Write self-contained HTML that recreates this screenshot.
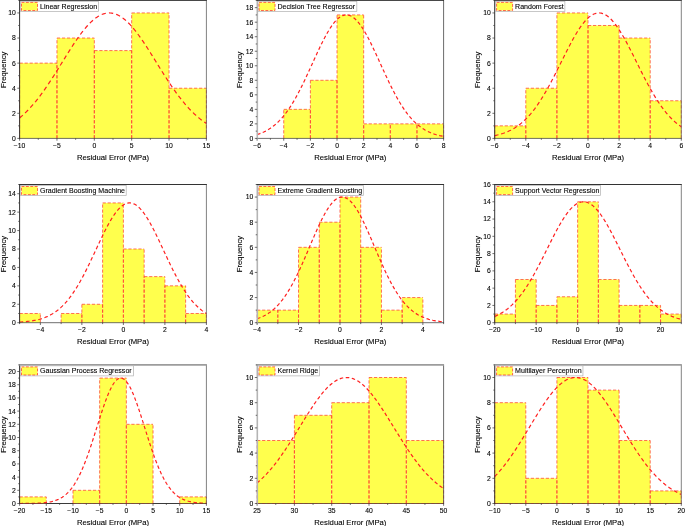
<!DOCTYPE html><html><head><meta charset="utf-8"><title>Residual error histograms</title><style>html,body{margin:0;padding:0;background:#fff;overflow:hidden}svg{display:block;will-change:transform}text{font-family:"Liberation Sans",sans-serif;fill:#000;stroke:#000;stroke-width:0.1px}</style></head><body>
<svg width="685" height="526" viewBox="0 0 685 526">
<rect width="685" height="526" fill="#fff"/>
<g>
<rect x="19.6" y="63.13" width="37.36" height="75.27" fill="#ffff4d"/>
<rect x="56.96" y="38.04" width="37.36" height="100.36" fill="#ffff4d"/>
<rect x="94.32" y="50.58" width="37.36" height="87.82" fill="#ffff4d"/>
<rect x="131.68" y="12.95" width="37.36" height="125.45" fill="#ffff4d"/>
<rect x="169.04" y="88.22" width="37.36" height="50.18" fill="#ffff4d"/>
<path d="M19.6 138.4V63.13M56.96 138.4V63.13M19.6 63.13H56.96M56.96 138.4V38.04M94.32 138.4V38.04M56.96 38.04H94.32M94.32 138.4V50.58M131.68 138.4V50.58M94.32 50.58H131.68M131.68 138.4V12.95M169.04 138.4V12.95M131.68 12.95H169.04M169.04 138.4V88.22M206.4 138.4V88.22M169.04 88.22H206.4" fill="none" stroke="#ff4030" stroke-width="0.75" stroke-dasharray="3.2 1.8"/>
<polyline points="19.6,117.95 20.93,116.83 22.27,115.66 23.6,114.44 24.94,113.19 26.27,111.88 27.61,110.54 28.94,109.14 30.27,107.71 31.61,106.22 32.94,104.7 34.28,103.13 35.61,101.51 36.95,99.85 38.28,98.15 39.61,96.41 40.95,94.63 42.28,92.81 43.62,90.96 44.95,89.06 46.29,87.14 47.62,85.18 48.95,83.19 50.29,81.17 51.62,79.12 52.96,77.05 54.29,74.96 55.63,72.85 56.96,70.73 58.29,68.59 59.63,66.45 60.96,64.29 62.3,62.14 63.63,59.98 64.97,57.83 66.3,55.68 67.63,53.55 68.97,51.43 70.3,49.33 71.64,47.25 72.97,45.2 74.31,43.18 75.64,41.19 76.97,39.24 78.31,37.34 79.64,35.48 80.98,33.67 82.31,31.91 83.65,30.21 84.98,28.58 86.31,27 87.65,25.5 88.98,24.07 90.32,22.71 91.65,21.43 92.99,20.23 94.32,19.11 95.65,18.08 96.99,17.14 98.32,16.29 99.66,15.53 100.99,14.87 102.33,14.3 103.66,13.83 104.99,13.46 106.33,13.19 107.66,13.02 109,12.95 110.33,12.98 111.67,13.11 113,13.34 114.33,13.67 115.67,14.1 117,14.63 118.34,15.25 119.67,15.97 121.01,16.79 122.34,17.69 123.67,18.69 125.01,19.77 126.34,20.94 127.68,22.19 129.01,23.51 130.35,24.92 131.68,26.39 133.01,27.94 134.35,29.55 135.68,31.23 137.02,32.96 138.35,34.75 139.69,36.59 141.02,38.48 142.35,40.41 143.69,42.38 145.02,44.39 146.36,46.43 147.69,48.5 149.03,50.59 150.36,52.7 151.69,54.83 153.03,56.97 154.36,59.12 155.7,61.27 157.03,63.43 158.37,65.58 159.7,67.73 161.03,69.88 162.37,72.01 163.7,74.12 165.04,76.22 166.37,78.3 167.71,80.35 169.04,82.38 170.37,84.38 171.71,86.36 173.04,88.3 174.38,90.2 175.71,92.07 177.05,93.91 178.38,95.71 179.71,97.46 181.05,99.18 182.38,100.85 183.72,102.48 185.05,104.07 186.39,105.62 187.72,107.12 189.05,108.57 190.39,109.98 191.72,111.35 193.06,112.67 194.39,113.95 195.73,115.18 197.06,116.36 198.39,117.51 199.73,118.61 201.06,119.66 202.4,120.68 203.73,121.65 205.07,122.58 206.4,123.48" fill="none" stroke="#ff2020" stroke-width="1.2" stroke-dasharray="4.29 3.11"/>
<path d="M19.2 138.4H206.8" stroke="#4a4a4a" stroke-width="0.8"/>
<path d="M206.4 0V138.8" stroke="#555" stroke-width="0.75"/>
<path d="M19.6 -0.1V138.9" stroke="#333" stroke-width="1.0"/>
<path d="M19.1 0.4H206.8" stroke="#333" stroke-width="1.0"/>
<text x="19.6" y="147.7" font-size="6.8" text-anchor="middle">−10</text>
<text x="56.96" y="147.7" font-size="6.8" text-anchor="middle">−5</text>
<text x="94.32" y="147.7" font-size="6.8" text-anchor="middle">0</text>
<text x="131.68" y="147.7" font-size="6.8" text-anchor="middle">5</text>
<text x="169.04" y="147.7" font-size="6.8" text-anchor="middle">10</text>
<text x="206.4" y="147.7" font-size="6.8" text-anchor="middle">15</text>
<text x="15.8" y="140.83" font-size="6.8" text-anchor="end">0</text>
<text x="15.8" y="115.74" font-size="6.8" text-anchor="end">2</text>
<text x="15.8" y="90.65" font-size="6.8" text-anchor="end">4</text>
<text x="15.8" y="65.56" font-size="6.8" text-anchor="end">6</text>
<text x="15.8" y="40.47" font-size="6.8" text-anchor="end">8</text>
<text x="15.8" y="15.38" font-size="6.8" text-anchor="end">10</text>
<path d="M19.6 138.4v2.3M56.96 138.4v2.3M94.32 138.4v2.3M131.68 138.4v2.3M169.04 138.4v2.3M206.4 138.4v2.3M38.28 138.4v1.4M75.64 138.4v1.4M113 138.4v1.4M150.36 138.4v1.4M187.72 138.4v1.4M19.6 138.4h-2.3M19.6 113.31h-2.3M19.6 88.22h-2.3M19.6 63.13h-2.3M19.6 38.04h-2.3M19.6 12.95h-2.3M19.6 125.85h-1.4M19.6 100.76h-1.4M19.6 75.67h-1.4M19.6 50.58h-1.4M19.6 25.49h-1.4M19.6 0.4h-1.4" stroke="#333" stroke-width="0.7" fill="none"/>
<text x="113" y="159.9" font-size="7.7" text-anchor="middle">Residual Error (MPa)</text>
<text transform="translate(6.1 69.8) rotate(-90)" font-size="7.7" text-anchor="middle">Frequency</text>
<rect x="20.5" y="1.3" width="77.87" height="10.1" fill="#fff" stroke="#b0b0b0" stroke-width="0.7"/>
<rect x="21.5" y="2.4" width="16" height="8.1" fill="#ffff4d" stroke="#ff4030" stroke-width="0.8" stroke-dasharray="2.9 1.5"/>
<text x="40" y="8.8" font-size="7.05">Linear Regression</text>
</g>
<g>
<rect x="283.74" y="109.35" width="26.64" height="29.05" fill="#ffff4d"/>
<rect x="310.39" y="80.29" width="26.64" height="58.11" fill="#ffff4d"/>
<rect x="337.03" y="14.93" width="26.64" height="123.47" fill="#ffff4d"/>
<rect x="363.67" y="123.87" width="26.64" height="14.53" fill="#ffff4d"/>
<rect x="390.31" y="123.87" width="26.64" height="14.53" fill="#ffff4d"/>
<rect x="416.96" y="123.87" width="26.64" height="14.53" fill="#ffff4d"/>
<path d="M283.74 138.4V109.35M310.39 138.4V109.35M283.74 109.35H310.39M310.39 138.4V80.29M337.03 138.4V80.29M310.39 80.29H337.03M337.03 138.4V14.93M363.67 138.4V14.93M337.03 14.93H363.67M363.67 138.4V123.87M390.31 138.4V123.87M363.67 123.87H390.31M390.31 138.4V123.87M416.96 138.4V123.87M390.31 123.87H416.96M416.96 138.4V123.87M443.6 138.4V123.87M416.96 123.87H443.6" fill="none" stroke="#ff4030" stroke-width="0.75" stroke-dasharray="3.2 1.8"/>
<polyline points="257.1,134.49 258.43,134.07 259.76,133.61 261.1,133.11 262.43,132.56 263.76,131.97 265.09,131.34 266.43,130.65 267.76,129.91 269.09,129.11 270.42,128.25 271.75,127.33 273.09,126.34 274.42,125.28 275.75,124.16 277.08,122.96 278.41,121.69 279.75,120.34 281.08,118.91 282.41,117.4 283.74,115.81 285.08,114.14 286.41,112.38 287.74,110.54 289.07,108.61 290.4,106.59 291.74,104.5 293.07,102.32 294.4,100.06 295.73,97.72 297.06,95.31 298.4,92.82 299.73,90.26 301.06,87.64 302.39,84.95 303.73,82.22 305.06,79.43 306.39,76.59 307.72,73.73 309.05,70.83 310.39,67.91 311.72,64.98 313.05,62.04 314.38,59.11 315.71,56.19 317.05,53.3 318.38,50.44 319.71,47.62 321.04,44.86 322.38,42.16 323.71,39.53 325.04,36.99 326.37,34.54 327.7,32.2 329.04,29.97 330.37,27.87 331.7,25.9 333.03,24.06 334.36,22.38 335.7,20.86 337.03,19.49 338.36,18.3 339.69,17.28 341.03,16.44 342.36,15.78 343.69,15.31 345.02,15.02 346.35,14.93 347.69,15.02 349.02,15.31 350.35,15.78 351.68,16.44 353.01,17.28 354.35,18.3 355.68,19.49 357.01,20.86 358.34,22.38 359.68,24.06 361.01,25.9 362.34,27.87 363.67,29.97 365,32.2 366.34,34.54 367.67,36.99 369,39.53 370.33,42.16 371.66,44.86 373,47.62 374.33,50.44 375.66,53.3 376.99,56.19 378.33,59.11 379.66,62.04 380.99,64.98 382.32,67.91 383.65,70.83 384.99,73.73 386.32,76.59 387.65,79.43 388.98,82.22 390.31,84.95 391.65,87.64 392.98,90.26 394.31,92.82 395.64,95.31 396.98,97.72 398.31,100.06 399.64,102.32 400.97,104.5 402.3,106.59 403.64,108.61 404.97,110.54 406.3,112.38 407.63,114.14 408.96,115.81 410.3,117.4 411.63,118.91 412.96,120.34 414.29,121.69 415.62,122.96 416.96,124.16 418.29,125.28 419.62,126.34 420.95,127.33 422.29,128.25 423.62,129.11 424.95,129.91 426.28,130.65 427.61,131.34 428.95,131.97 430.28,132.56 431.61,133.11 432.94,133.61 434.28,134.07 435.61,134.49 436.94,134.87 438.27,135.23 439.6,135.55 440.94,135.84 442.27,136.11 443.6,136.35" fill="none" stroke="#ff2020" stroke-width="1.2" stroke-dasharray="3.48 2.52"/>
<path d="M256.7 138.4H444" stroke="#4a4a4a" stroke-width="0.8"/>
<path d="M443.6 0V138.8" stroke="#444" stroke-width="0.8"/>
<path d="M257.3 -0.1V138.9" stroke="#b4b4b4" stroke-width="1.6"/>
<path d="M256.6 0.4H444" stroke="#333" stroke-width="1.0"/>
<text x="257.1" y="147.7" font-size="6.8" text-anchor="middle">−6</text>
<text x="283.74" y="147.7" font-size="6.8" text-anchor="middle">−4</text>
<text x="310.39" y="147.7" font-size="6.8" text-anchor="middle">−2</text>
<text x="337.03" y="147.7" font-size="6.8" text-anchor="middle">0</text>
<text x="363.67" y="147.7" font-size="6.8" text-anchor="middle">2</text>
<text x="390.31" y="147.7" font-size="6.8" text-anchor="middle">4</text>
<text x="416.96" y="147.7" font-size="6.8" text-anchor="middle">6</text>
<text x="443.6" y="147.7" font-size="6.8" text-anchor="middle">8</text>
<text x="253.3" y="140.83" font-size="6.8" text-anchor="end">0</text>
<text x="253.3" y="126.3" font-size="6.8" text-anchor="end">2</text>
<text x="253.3" y="111.78" font-size="6.8" text-anchor="end">4</text>
<text x="253.3" y="97.25" font-size="6.8" text-anchor="end">6</text>
<text x="253.3" y="82.72" font-size="6.8" text-anchor="end">8</text>
<text x="253.3" y="68.2" font-size="6.8" text-anchor="end">10</text>
<text x="253.3" y="53.67" font-size="6.8" text-anchor="end">12</text>
<text x="253.3" y="39.15" font-size="6.8" text-anchor="end">14</text>
<text x="253.3" y="24.62" font-size="6.8" text-anchor="end">16</text>
<text x="253.3" y="10.09" font-size="6.8" text-anchor="end">18</text>
<path d="M257.1 138.4v2.3M283.74 138.4v2.3M310.39 138.4v2.3M337.03 138.4v2.3M363.67 138.4v2.3M390.31 138.4v2.3M416.96 138.4v2.3M443.6 138.4v2.3M270.42 138.4v1.4M297.06 138.4v1.4M323.71 138.4v1.4M350.35 138.4v1.4M376.99 138.4v1.4M403.64 138.4v1.4M430.28 138.4v1.4M257.1 138.4h-2.3M257.1 123.87h-2.3M257.1 109.35h-2.3M257.1 94.82h-2.3M257.1 80.29h-2.3M257.1 65.77h-2.3M257.1 51.24h-2.3M257.1 36.72h-2.3M257.1 22.19h-2.3M257.1 7.66h-2.3M257.1 131.14h-1.4M257.1 116.61h-1.4M257.1 102.08h-1.4M257.1 87.56h-1.4M257.1 73.03h-1.4M257.1 58.51h-1.4M257.1 43.98h-1.4M257.1 29.45h-1.4M257.1 14.93h-1.4M257.1 0.4h-1.4" stroke="#333" stroke-width="0.7" fill="none"/>
<text x="350.35" y="159.9" font-size="7.7" text-anchor="middle">Residual Error (MPa)</text>
<text transform="translate(242.3 69.8) rotate(-90)" font-size="7.7" text-anchor="middle">Frequency</text>
<rect x="258" y="1.3" width="98.83" height="10.1" fill="#fff" stroke="#b0b0b0" stroke-width="0.7"/>
<rect x="259" y="2.4" width="16" height="8.1" fill="#ffff4d" stroke="#ff4030" stroke-width="0.8" stroke-dasharray="2.9 1.5"/>
<text x="277.5" y="8.8" font-size="7.05">Decision Tree Regressor</text>
</g>
<g>
<rect x="494.7" y="125.85" width="31.1" height="12.55" fill="#ffff4d"/>
<rect x="525.8" y="88.22" width="31.1" height="50.18" fill="#ffff4d"/>
<rect x="556.9" y="12.95" width="31.1" height="125.45" fill="#ffff4d"/>
<rect x="588" y="25.49" width="31.1" height="112.91" fill="#ffff4d"/>
<rect x="619.1" y="38.04" width="31.1" height="100.36" fill="#ffff4d"/>
<rect x="650.2" y="100.76" width="31.1" height="37.64" fill="#ffff4d"/>
<path d="M494.7 138.4V125.85M525.8 138.4V125.85M494.7 125.85H525.8M525.8 138.4V88.22M556.9 138.4V88.22M525.8 88.22H556.9M556.9 138.4V12.95M588 138.4V12.95M556.9 12.95H588M588 138.4V25.49M619.1 138.4V25.49M588 25.49H619.1M619.1 138.4V38.04M650.2 138.4V38.04M619.1 38.04H650.2M650.2 138.4V100.76M681.3 138.4V100.76M650.2 100.76H681.3" fill="none" stroke="#ff4030" stroke-width="0.75" stroke-dasharray="3.2 1.8"/>
<polyline points="494.7,135.6 496.03,135.31 497.37,135 498.7,134.67 500.03,134.3 501.36,133.91 502.7,133.49 504.03,133.03 505.36,132.53 506.7,132 508.03,131.43 509.36,130.82 510.69,130.17 512.03,129.46 513.36,128.72 514.69,127.92 516.03,127.07 517.36,126.16 518.69,125.2 520.02,124.19 521.36,123.11 522.69,121.97 524.02,120.77 525.36,119.51 526.69,118.18 528.02,116.78 529.35,115.32 530.69,113.79 532.02,112.19 533.35,110.51 534.69,108.77 536.02,106.96 537.35,105.08 538.68,103.14 540.02,101.12 541.35,99.04 542.68,96.89 544.02,94.69 545.35,92.42 546.68,90.09 548.01,87.71 549.35,85.28 550.68,82.8 552.01,80.28 553.35,77.71 554.68,75.12 556.01,72.49 557.34,69.84 558.68,67.18 560.01,64.5 561.34,61.82 562.68,59.13 564.01,56.46 565.34,53.8 566.67,51.16 568.01,48.56 569.34,45.99 570.67,43.46 572.01,40.99 573.34,38.58 574.67,36.23 576,33.96 577.34,31.77 578.67,29.67 580,27.67 581.34,25.77 582.67,23.98 584,22.31 585.33,20.76 586.67,19.34 588,18.04 589.33,16.89 590.67,15.88 592,15.01 593.33,14.29 594.66,13.73 596,13.31 597.33,13.05 598.66,12.95 600,13 601.33,13.21 602.66,13.57 603.99,14.09 605.33,14.76 606.66,15.57 607.99,16.54 609.33,17.64 610.66,18.89 611.99,20.27 613.32,21.78 614.66,23.41 615.99,25.16 617.32,27.03 618.66,28.99 619.99,31.06 621.32,33.22 622.65,35.47 623.99,37.79 625.32,40.18 626.65,42.63 627.99,45.14 629.32,47.7 630.65,50.29 631.98,52.92 633.32,55.57 634.65,58.24 635.98,60.92 637.32,63.61 638.65,66.29 639.98,68.96 641.31,71.61 642.65,74.25 643.98,76.85 645.31,79.43 646.65,81.96 647.98,84.46 649.31,86.9 650.64,89.3 651.98,91.65 653.31,93.94 654.64,96.17 655.98,98.33 657.31,100.44 658.64,102.47 659.97,104.44 661.31,106.35 662.64,108.18 663.97,109.94 665.31,111.64 666.64,113.26 667.97,114.82 669.3,116.3 670.64,117.72 671.97,119.07 673.3,120.36 674.64,121.58 675.97,122.74 677.3,123.84 678.63,124.87 679.97,125.85 681.3,126.77" fill="none" stroke="#ff2020" stroke-width="1.2" stroke-dasharray="3.89 2.81"/>
<path d="M494.3 138.4H681.7" stroke="#4a4a4a" stroke-width="0.8"/>
<path d="M681.3 0V138.8" stroke="#6a6a6a" stroke-width="0.85"/>
<path d="M494.7 -0.1V138.9" stroke="#333" stroke-width="1.0"/>
<path d="M494.2 0.4H681.7" stroke="#333" stroke-width="1.0"/>
<text x="494.7" y="147.7" font-size="6.8" text-anchor="middle">−6</text>
<text x="525.8" y="147.7" font-size="6.8" text-anchor="middle">−4</text>
<text x="556.9" y="147.7" font-size="6.8" text-anchor="middle">−2</text>
<text x="588" y="147.7" font-size="6.8" text-anchor="middle">0</text>
<text x="619.1" y="147.7" font-size="6.8" text-anchor="middle">2</text>
<text x="650.2" y="147.7" font-size="6.8" text-anchor="middle">4</text>
<text x="681.3" y="147.7" font-size="6.8" text-anchor="middle">6</text>
<text x="490.9" y="140.83" font-size="6.8" text-anchor="end">0</text>
<text x="490.9" y="115.74" font-size="6.8" text-anchor="end">2</text>
<text x="490.9" y="90.65" font-size="6.8" text-anchor="end">4</text>
<text x="490.9" y="65.56" font-size="6.8" text-anchor="end">6</text>
<text x="490.9" y="40.47" font-size="6.8" text-anchor="end">8</text>
<text x="490.9" y="15.38" font-size="6.8" text-anchor="end">10</text>
<path d="M494.7 138.4v2.3M525.8 138.4v2.3M556.9 138.4v2.3M588 138.4v2.3M619.1 138.4v2.3M650.2 138.4v2.3M681.3 138.4v2.3M510.25 138.4v1.4M541.35 138.4v1.4M572.45 138.4v1.4M603.55 138.4v1.4M634.65 138.4v1.4M665.75 138.4v1.4M494.7 138.4h-2.3M494.7 113.31h-2.3M494.7 88.22h-2.3M494.7 63.13h-2.3M494.7 38.04h-2.3M494.7 12.95h-2.3M494.7 125.85h-1.4M494.7 100.76h-1.4M494.7 75.67h-1.4M494.7 50.58h-1.4M494.7 25.49h-1.4M494.7 0.4h-1.4" stroke="#333" stroke-width="0.7" fill="none"/>
<text x="588" y="159.9" font-size="7.7" text-anchor="middle">Residual Error (MPa)</text>
<text transform="translate(480.1 69.8) rotate(-90)" font-size="7.7" text-anchor="middle">Frequency</text>
<rect x="495.6" y="1.3" width="69.28" height="10.1" fill="#fff" stroke="#b0b0b0" stroke-width="0.7"/>
<rect x="496.6" y="2.4" width="16" height="8.1" fill="#ffff4d" stroke="#ff4030" stroke-width="0.8" stroke-dasharray="2.9 1.5"/>
<text x="515.1" y="8.8" font-size="7.05">Random Forest</text>
</g>
<g>
<rect x="19.6" y="313.49" width="20.76" height="9.21" fill="#ffff4d"/>
<rect x="61.11" y="313.49" width="20.76" height="9.21" fill="#ffff4d"/>
<rect x="81.87" y="304.27" width="20.76" height="18.43" fill="#ffff4d"/>
<rect x="102.62" y="202.93" width="20.76" height="119.77" fill="#ffff4d"/>
<rect x="123.38" y="248.99" width="20.76" height="73.71" fill="#ffff4d"/>
<rect x="144.13" y="276.63" width="20.76" height="46.07" fill="#ffff4d"/>
<rect x="164.89" y="285.85" width="20.76" height="36.85" fill="#ffff4d"/>
<rect x="185.64" y="313.49" width="20.76" height="9.21" fill="#ffff4d"/>
<path d="M19.6 322.7V313.49M40.36 322.7V313.49M19.6 313.49H40.36M61.11 322.7V313.49M81.87 322.7V313.49M61.11 313.49H81.87M81.87 322.7V304.27M102.62 322.7V304.27M81.87 304.27H102.62M102.62 322.7V202.93M123.38 322.7V202.93M102.62 202.93H123.38M123.38 322.7V248.99M144.13 322.7V248.99M123.38 248.99H144.13M144.13 322.7V276.63M164.89 322.7V276.63M144.13 276.63H164.89M164.89 322.7V285.85M185.64 322.7V285.85M164.89 285.85H185.64M185.64 322.7V313.49M206.4 322.7V313.49M185.64 313.49H206.4" fill="none" stroke="#ff4030" stroke-width="0.75" stroke-dasharray="3.2 1.8"/>
<polyline points="19.6,322.09 20.93,322.01 22.27,321.92 23.6,321.82 24.94,321.7 26.27,321.57 27.61,321.43 28.94,321.27 30.27,321.09 31.61,320.9 32.94,320.68 34.28,320.44 35.61,320.18 36.95,319.88 38.28,319.57 39.61,319.22 40.95,318.83 42.28,318.42 43.62,317.96 44.95,317.47 46.29,316.93 47.62,316.34 48.95,315.71 50.29,315.03 51.62,314.29 52.96,313.5 54.29,312.65 55.63,311.73 56.96,310.76 58.29,309.71 59.63,308.59 60.96,307.41 62.3,306.15 63.63,304.81 64.97,303.39 66.3,301.9 67.63,300.32 68.97,298.67 70.3,296.93 71.64,295.1 72.97,293.2 74.31,291.21 75.64,289.14 76.97,286.98 78.31,284.75 79.64,282.45 80.98,280.07 82.31,277.62 83.65,275.1 84.98,272.52 86.31,269.88 87.65,267.19 88.98,264.45 90.32,261.67 91.65,258.86 92.99,256.03 94.32,253.17 95.65,250.31 96.99,247.44 98.32,244.59 99.66,241.75 100.99,238.94 102.33,236.17 103.66,233.44 104.99,230.77 106.33,228.17 107.66,225.64 109,223.21 110.33,220.87 111.67,218.63 113,216.52 114.33,214.53 115.67,212.67 117,210.95 118.34,209.39 119.67,207.98 121.01,206.73 122.34,205.66 123.67,204.75 125.01,204.03 126.34,203.48 127.68,203.12 129.01,202.95 130.35,202.96 131.68,203.15 133.01,203.53 134.35,204.1 135.68,204.84 137.02,205.77 138.35,206.86 139.69,208.13 141.02,209.55 142.35,211.14 143.69,212.87 145.02,214.74 146.36,216.75 147.69,218.88 149.03,221.12 150.36,223.47 151.69,225.92 153.03,228.45 154.36,231.06 155.7,233.74 157.03,236.47 158.37,239.25 159.7,242.06 161.03,244.91 162.37,247.76 163.7,250.63 165.04,253.49 166.37,256.34 167.71,259.18 169.04,261.98 170.37,264.76 171.71,267.49 173.04,270.17 174.38,272.81 175.71,275.38 177.05,277.89 178.38,280.33 179.71,282.71 181.05,285.01 182.38,287.23 183.72,289.37 185.05,291.43 186.39,293.41 187.72,295.31 189.05,297.12 190.39,298.85 191.72,300.5 193.06,302.07 194.39,303.56 195.73,304.96 197.06,306.29 198.39,307.54 199.73,308.72 201.06,309.83 202.4,310.87 203.73,311.84 205.07,312.75 206.4,313.59" fill="none" stroke="#ff2020" stroke-width="1.2" stroke-dasharray="3.65 2.65"/>
<path d="M19.2 322.7H206.8" stroke="#4a4a4a" stroke-width="0.8"/>
<path d="M206.4 184.1V323.1" stroke="#555" stroke-width="0.75"/>
<path d="M19.6 184V323.2" stroke="#333" stroke-width="1.0"/>
<path d="M19.1 184.5H206.8" stroke="#333" stroke-width="1.0"/>
<text x="40.36" y="332" font-size="6.8" text-anchor="middle">−4</text>
<text x="81.87" y="332" font-size="6.8" text-anchor="middle">−2</text>
<text x="123.38" y="332" font-size="6.8" text-anchor="middle">0</text>
<text x="164.89" y="332" font-size="6.8" text-anchor="middle">2</text>
<text x="206.4" y="332" font-size="6.8" text-anchor="middle">4</text>
<text x="15.8" y="325.13" font-size="6.8" text-anchor="end">0</text>
<text x="15.8" y="306.7" font-size="6.8" text-anchor="end">2</text>
<text x="15.8" y="288.28" font-size="6.8" text-anchor="end">4</text>
<text x="15.8" y="269.85" font-size="6.8" text-anchor="end">6</text>
<text x="15.8" y="251.42" font-size="6.8" text-anchor="end">8</text>
<text x="15.8" y="233" font-size="6.8" text-anchor="end">10</text>
<text x="15.8" y="214.57" font-size="6.8" text-anchor="end">12</text>
<text x="15.8" y="196.14" font-size="6.8" text-anchor="end">14</text>
<path d="M40.36 322.7v2.3M81.87 322.7v2.3M123.38 322.7v2.3M164.89 322.7v2.3M206.4 322.7v2.3M19.6 322.7v1.4M61.11 322.7v1.4M102.62 322.7v1.4M144.13 322.7v1.4M185.64 322.7v1.4M19.6 322.7h-2.3M19.6 304.27h-2.3M19.6 285.85h-2.3M19.6 267.42h-2.3M19.6 248.99h-2.3M19.6 230.57h-2.3M19.6 212.14h-2.3M19.6 193.71h-2.3M19.6 313.49h-1.4M19.6 295.06h-1.4M19.6 276.63h-1.4M19.6 258.21h-1.4M19.6 239.78h-1.4M19.6 221.35h-1.4M19.6 202.93h-1.4M19.6 184.5h-1.4" stroke="#333" stroke-width="0.7" fill="none"/>
<text x="113" y="344.2" font-size="7.7" text-anchor="middle">Residual Error (MPa)</text>
<text transform="translate(6.1 254) rotate(-90)" font-size="7.7" text-anchor="middle">Frequency</text>
<rect x="20.5" y="185.4" width="105.69" height="10.1" fill="#fff" stroke="#b0b0b0" stroke-width="0.7"/>
<rect x="21.5" y="186.5" width="16" height="8.1" fill="#ffff4d" stroke="#ff4030" stroke-width="0.8" stroke-dasharray="2.9 1.5"/>
<text x="40" y="192.9" font-size="7.05">Gradient Boosting Machine</text>
</g>
<g>
<rect x="257.1" y="310.14" width="20.72" height="12.56" fill="#ffff4d"/>
<rect x="277.82" y="310.14" width="20.72" height="12.56" fill="#ffff4d"/>
<rect x="298.54" y="247.32" width="20.72" height="75.38" fill="#ffff4d"/>
<rect x="319.27" y="222.19" width="20.72" height="100.51" fill="#ffff4d"/>
<rect x="339.99" y="197.06" width="20.72" height="125.64" fill="#ffff4d"/>
<rect x="360.71" y="247.32" width="20.72" height="75.38" fill="#ffff4d"/>
<rect x="381.43" y="310.14" width="20.72" height="12.56" fill="#ffff4d"/>
<rect x="402.16" y="297.57" width="20.72" height="25.13" fill="#ffff4d"/>
<path d="M257.1 322.7V310.14M277.82 322.7V310.14M257.1 310.14H277.82M277.82 322.7V310.14M298.54 322.7V310.14M277.82 310.14H298.54M298.54 322.7V247.32M319.27 322.7V247.32M298.54 247.32H319.27M319.27 322.7V222.19M339.99 322.7V222.19M319.27 222.19H339.99M339.99 322.7V197.06M360.71 322.7V197.06M339.99 197.06H360.71M360.71 322.7V247.32M381.43 322.7V247.32M360.71 247.32H381.43M381.43 322.7V310.14M402.16 322.7V310.14M381.43 310.14H402.16M402.16 322.7V297.57M422.88 322.7V297.57M402.16 297.57H422.88" fill="none" stroke="#ff4030" stroke-width="0.75" stroke-dasharray="3.2 1.8"/>
<polyline points="257.1,318.73 258.43,318.28 259.76,317.78 261.1,317.24 262.43,316.65 263.76,316.01 265.09,315.32 266.43,314.56 267.76,313.75 269.09,312.87 270.42,311.92 271.75,310.9 273.09,309.8 274.42,308.63 275.75,307.37 277.08,306.04 278.41,304.61 279.75,303.1 281.08,301.5 282.41,299.8 283.74,298.02 285.08,296.13 286.41,294.16 287.74,292.08 289.07,289.92 290.4,287.66 291.74,285.3 293.07,282.86 294.4,280.33 295.73,277.71 297.06,275.01 298.4,272.24 299.73,269.4 301.06,266.49 302.39,263.53 303.73,260.51 305.06,257.45 306.39,254.36 307.72,251.24 309.05,248.1 310.39,244.96 311.72,241.83 313.05,238.71 314.38,235.62 315.71,232.57 317.05,229.57 318.38,226.63 319.71,223.77 321.04,221 322.38,218.33 323.71,215.77 325.04,213.33 326.37,211.02 327.7,208.86 329.04,206.86 330.37,205.02 331.7,203.35 333.03,201.87 334.36,200.57 335.7,199.48 337.03,198.58 338.36,197.88 339.69,197.4 341.03,197.13 342.36,197.07 343.69,197.22 345.02,197.59 346.35,198.17 347.69,198.95 349.02,199.94 350.35,201.13 351.68,202.51 353.01,204.07 354.35,205.82 355.68,207.73 357.01,209.8 358.34,212.03 359.68,214.4 361.01,216.89 362.34,219.5 363.67,222.22 365,225.03 366.34,227.93 367.67,230.9 369,233.92 370.33,236.99 371.66,240.09 373,243.22 374.33,246.36 375.66,249.5 376.99,252.63 378.32,255.73 379.66,258.81 380.99,261.86 382.32,264.85 383.65,267.79 384.99,270.67 386.32,273.48 387.65,276.22 388.98,278.88 390.31,281.46 391.65,283.96 392.98,286.36 394.31,288.67 395.64,290.89 396.98,293.02 398.31,295.05 399.64,296.98 400.97,298.82 402.3,300.57 403.64,302.22 404.97,303.78 406.3,305.26 407.63,306.64 408.96,307.94 410.3,309.16 411.63,310.3 412.96,311.36 414.29,312.35 415.62,313.27 416.96,314.12 418.29,314.91 419.62,315.64 420.95,316.31 422.29,316.92 423.62,317.49 424.95,318.01 426.28,318.48 427.61,318.91 428.95,319.31 430.28,319.67 431.61,319.99 432.94,320.29 434.28,320.55 435.61,320.79 436.94,321.01 438.27,321.2 439.6,321.38 440.94,321.53 442.27,321.67 443.6,321.79" fill="none" stroke="#ff2020" stroke-width="1.2" stroke-dasharray="3.48 2.52"/>
<path d="M256.7 322.7H444" stroke="#4a4a4a" stroke-width="0.8"/>
<path d="M443.6 184.1V323.1" stroke="#444" stroke-width="0.8"/>
<path d="M257.3 184V323.2" stroke="#b4b4b4" stroke-width="1.6"/>
<path d="M256.6 184.5H444" stroke="#333" stroke-width="1.0"/>
<text x="257.1" y="332" font-size="6.8" text-anchor="middle">−4</text>
<text x="298.54" y="332" font-size="6.8" text-anchor="middle">−2</text>
<text x="339.99" y="332" font-size="6.8" text-anchor="middle">0</text>
<text x="381.43" y="332" font-size="6.8" text-anchor="middle">2</text>
<text x="422.88" y="332" font-size="6.8" text-anchor="middle">4</text>
<text x="253.3" y="325.13" font-size="6.8" text-anchor="end">0</text>
<text x="253.3" y="300" font-size="6.8" text-anchor="end">2</text>
<text x="253.3" y="274.88" font-size="6.8" text-anchor="end">4</text>
<text x="253.3" y="249.75" font-size="6.8" text-anchor="end">6</text>
<text x="253.3" y="224.62" font-size="6.8" text-anchor="end">8</text>
<text x="253.3" y="199.49" font-size="6.8" text-anchor="end">10</text>
<path d="M257.1 322.7v2.3M298.54 322.7v2.3M339.99 322.7v2.3M381.43 322.7v2.3M422.88 322.7v2.3M277.82 322.7v1.4M319.27 322.7v1.4M360.71 322.7v1.4M402.16 322.7v1.4M443.6 322.7v1.4M257.1 322.7h-2.3M257.1 297.57h-2.3M257.1 272.45h-2.3M257.1 247.32h-2.3M257.1 222.19h-2.3M257.1 197.06h-2.3M257.1 310.14h-1.4M257.1 285.01h-1.4M257.1 259.88h-1.4M257.1 234.75h-1.4M257.1 209.63h-1.4M257.1 184.5h-1.4" stroke="#333" stroke-width="0.7" fill="none"/>
<text x="350.35" y="344.2" font-size="7.7" text-anchor="middle">Residual Error (MPa)</text>
<text transform="translate(242.3 254) rotate(-90)" font-size="7.7" text-anchor="middle">Frequency</text>
<rect x="258" y="185.4" width="105.3" height="10.1" fill="#fff" stroke="#b0b0b0" stroke-width="0.7"/>
<rect x="259" y="186.5" width="16" height="8.1" fill="#ffff4d" stroke="#ff4030" stroke-width="0.8" stroke-dasharray="2.9 1.5"/>
<text x="277.5" y="192.9" font-size="7.05">Extreme Gradient Boosting</text>
</g>
<g>
<rect x="494.7" y="314.06" width="20.73" height="8.64" fill="#ffff4d"/>
<rect x="515.43" y="279.51" width="20.73" height="43.19" fill="#ffff4d"/>
<rect x="536.17" y="305.43" width="20.73" height="17.27" fill="#ffff4d"/>
<rect x="556.9" y="296.79" width="20.73" height="25.91" fill="#ffff4d"/>
<rect x="577.63" y="201.78" width="20.73" height="120.92" fill="#ffff4d"/>
<rect x="598.37" y="279.51" width="20.73" height="43.19" fill="#ffff4d"/>
<rect x="619.1" y="305.43" width="20.73" height="17.27" fill="#ffff4d"/>
<rect x="639.83" y="305.43" width="20.73" height="17.27" fill="#ffff4d"/>
<rect x="660.57" y="314.06" width="20.73" height="8.64" fill="#ffff4d"/>
<path d="M494.7 322.7V314.06M515.43 322.7V314.06M494.7 314.06H515.43M515.43 322.7V279.51M536.17 322.7V279.51M515.43 279.51H536.17M536.17 322.7V305.43M556.9 322.7V305.43M536.17 305.43H556.9M556.9 322.7V296.79M577.63 322.7V296.79M556.9 296.79H577.63M577.63 322.7V201.78M598.37 322.7V201.78M577.63 201.78H598.37M598.37 322.7V279.51M619.1 322.7V279.51M598.37 279.51H619.1M619.1 322.7V305.43M639.83 322.7V305.43M619.1 305.43H639.83M639.83 322.7V305.43M660.57 322.7V305.43M639.83 305.43H660.57M660.57 322.7V314.06M681.3 322.7V314.06M660.57 314.06H681.3" fill="none" stroke="#ff4030" stroke-width="0.75" stroke-dasharray="3.2 1.8"/>
<polyline points="494.7,316.41 496.03,315.83 497.37,315.21 498.7,314.54 500.03,313.83 501.36,313.06 502.7,312.24 504.03,311.37 505.36,310.44 506.7,309.45 508.03,308.41 509.36,307.3 510.69,306.12 512.03,304.88 513.36,303.57 514.69,302.2 516.03,300.75 517.36,299.23 518.69,297.65 520.02,295.99 521.36,294.26 522.69,292.45 524.02,290.58 525.36,288.63 526.69,286.62 528.02,284.53 529.35,282.38 530.69,280.17 532.02,277.89 533.35,275.56 534.69,273.17 536.02,270.72 537.35,268.23 538.68,265.7 540.02,263.13 541.35,260.52 542.68,257.89 544.02,255.24 545.35,252.57 546.68,249.89 548.01,247.21 549.35,244.54 550.68,241.88 552.01,239.24 553.35,236.63 554.68,234.06 556.01,231.53 557.34,229.06 558.68,226.64 560.01,224.3 561.34,222.03 562.68,219.85 564.01,217.76 565.34,215.77 566.67,213.89 568.01,212.12 569.34,210.47 570.67,208.95 572.01,207.57 573.34,206.32 574.67,205.22 576,204.26 577.34,203.45 578.67,202.8 580,202.31 581.34,201.98 582.67,201.8 584,201.79 585.33,201.94 586.67,202.25 588,202.72 589.33,203.34 590.67,204.12 592,205.06 593.33,206.14 594.66,207.36 596,208.73 597.33,210.23 598.66,211.85 600,213.6 601.33,215.47 602.66,217.44 603.99,219.52 605.33,221.69 606.66,223.94 607.99,226.27 609.33,228.68 610.66,231.14 611.99,233.66 613.32,236.23 614.66,238.83 615.99,241.47 617.32,244.13 618.66,246.8 619.99,249.47 621.32,252.15 622.65,254.82 623.99,257.48 625.32,260.11 626.65,262.72 627.99,265.3 629.32,267.84 630.65,270.34 631.98,272.79 633.32,275.19 634.65,277.53 635.98,279.82 637.32,282.04 638.65,284.2 639.98,286.3 641.31,288.32 642.65,290.28 643.98,292.16 645.31,293.98 646.65,295.72 647.98,297.39 649.31,298.99 650.64,300.52 651.98,301.98 653.31,303.36 654.64,304.68 655.98,305.93 657.31,307.12 658.64,308.24 659.97,309.3 661.31,310.29 662.64,311.23 663.97,312.11 665.31,312.94 666.64,313.71 667.97,314.44 669.3,315.11 670.64,315.74 671.97,316.33 673.3,316.87 674.64,317.38 675.97,317.84 677.3,318.28 678.63,318.68 679.97,319.04 681.3,319.38" fill="none" stroke="#ff2020" stroke-width="1.2" stroke-dasharray="3.65 2.65"/>
<path d="M494.3 322.7H681.7" stroke="#4a4a4a" stroke-width="0.8"/>
<path d="M681.3 184.1V323.1" stroke="#6a6a6a" stroke-width="0.85"/>
<path d="M494.7 184V323.2" stroke="#333" stroke-width="1.0"/>
<path d="M494.2 184.5H681.7" stroke="#333" stroke-width="1.0"/>
<text x="494.7" y="332" font-size="6.8" text-anchor="middle">−20</text>
<text x="536.17" y="332" font-size="6.8" text-anchor="middle">−10</text>
<text x="577.63" y="332" font-size="6.8" text-anchor="middle">0</text>
<text x="619.1" y="332" font-size="6.8" text-anchor="middle">10</text>
<text x="660.57" y="332" font-size="6.8" text-anchor="middle">20</text>
<text x="490.9" y="325.13" font-size="6.8" text-anchor="end">0</text>
<text x="490.9" y="307.86" font-size="6.8" text-anchor="end">2</text>
<text x="490.9" y="290.58" font-size="6.8" text-anchor="end">4</text>
<text x="490.9" y="273.31" font-size="6.8" text-anchor="end">6</text>
<text x="490.9" y="256.03" font-size="6.8" text-anchor="end">8</text>
<text x="490.9" y="238.75" font-size="6.8" text-anchor="end">10</text>
<text x="490.9" y="221.48" font-size="6.8" text-anchor="end">12</text>
<text x="490.9" y="204.21" font-size="6.8" text-anchor="end">14</text>
<text x="490.9" y="186.93" font-size="6.8" text-anchor="end">16</text>
<path d="M494.7 322.7v2.3M536.17 322.7v2.3M577.63 322.7v2.3M619.1 322.7v2.3M660.57 322.7v2.3M515.43 322.7v1.4M556.9 322.7v1.4M598.37 322.7v1.4M639.83 322.7v1.4M681.3 322.7v1.4M494.7 322.7h-2.3M494.7 305.43h-2.3M494.7 288.15h-2.3M494.7 270.88h-2.3M494.7 253.6h-2.3M494.7 236.32h-2.3M494.7 219.05h-2.3M494.7 201.78h-2.3M494.7 184.5h-2.3M494.7 314.06h-1.4M494.7 296.79h-1.4M494.7 279.51h-1.4M494.7 262.24h-1.4M494.7 244.96h-1.4M494.7 227.69h-1.4M494.7 210.41h-1.4M494.7 193.14h-1.4" stroke="#333" stroke-width="0.7" fill="none"/>
<text x="588" y="344.2" font-size="7.7" text-anchor="middle">Residual Error (MPa)</text>
<text transform="translate(480.1 254) rotate(-90)" font-size="7.7" text-anchor="middle">Frequency</text>
<rect x="495.6" y="185.4" width="104.91" height="10.1" fill="#fff" stroke="#b0b0b0" stroke-width="0.7"/>
<rect x="496.6" y="186.5" width="16" height="8.1" fill="#ffff4d" stroke="#ff4030" stroke-width="0.8" stroke-dasharray="2.9 1.5"/>
<text x="515.1" y="192.9" font-size="7.05">Support Vector Regression</text>
</g>
<g>
<path d="M19.2 503.5H206.8" stroke="#3a3a3a" stroke-width="1.0"/>
<rect x="19.6" y="496.9" width="26.69" height="6.6" fill="#ffff4d"/>
<rect x="72.97" y="490.3" width="26.69" height="13.2" fill="#ffff4d"/>
<rect x="99.66" y="378.1" width="26.69" height="125.4" fill="#ffff4d"/>
<rect x="126.34" y="424.3" width="26.69" height="79.2" fill="#ffff4d"/>
<rect x="179.71" y="496.9" width="26.69" height="6.6" fill="#ffff4d"/>
<path d="M19.6 503.5V496.9M46.29 503.5V496.9M19.6 496.9H46.29M19.6 503.5H46.29M72.97 503.5V490.3M99.66 503.5V490.3M72.97 490.3H99.66M72.97 503.5H99.66M99.66 503.5V378.1M126.34 503.5V378.1M99.66 378.1H126.34M99.66 503.5H126.34M126.34 503.5V424.3M153.03 503.5V424.3M126.34 424.3H153.03M126.34 503.5H153.03M179.71 503.5V496.9M206.4 503.5V496.9M179.71 496.9H206.4M179.71 503.5H206.4" fill="none" stroke="#ff4030" stroke-width="0.75" stroke-dasharray="3.2 1.8"/>
<polyline points="19.6,503.48 20.93,503.48 22.27,503.47 23.6,503.47 24.94,503.46 26.27,503.45 27.61,503.44 28.94,503.42 30.27,503.4 31.61,503.38 32.94,503.35 34.28,503.32 35.61,503.28 36.95,503.23 38.28,503.17 39.61,503.1 40.95,503.02 42.28,502.92 43.62,502.81 44.95,502.67 46.29,502.52 47.62,502.33 48.95,502.12 50.29,501.87 51.62,501.58 52.96,501.24 54.29,500.86 55.63,500.42 56.96,499.92 58.29,499.36 59.63,498.72 60.96,497.99 62.3,497.18 63.63,496.26 64.97,495.24 66.3,494.11 67.63,492.85 68.97,491.47 70.3,489.94 71.64,488.28 72.97,486.45 74.31,484.47 75.64,482.33 76.97,480.01 78.31,477.53 79.64,474.87 80.98,472.04 82.31,469.03 83.65,465.86 84.98,462.52 86.31,459.02 87.65,455.37 88.98,451.59 90.32,447.68 91.65,443.67 92.99,439.56 94.32,435.39 95.65,431.17 96.99,426.93 98.32,422.69 99.66,418.49 100.99,414.34 102.33,410.28 103.66,406.34 104.99,402.54 106.33,398.93 107.66,395.52 109,392.34 110.33,389.43 111.67,386.81 113,384.5 114.33,382.52 115.67,380.89 117,379.62 118.34,378.73 119.67,378.22 121.01,378.11 122.34,378.38 123.67,379.04 125.01,380.08 126.34,381.5 127.68,383.27 129.01,385.39 130.35,387.82 131.68,390.56 133.01,393.58 134.35,396.85 135.68,400.35 137.02,404.04 138.35,407.9 139.69,411.89 141.02,415.99 142.35,420.16 143.69,424.39 145.02,428.63 146.36,432.86 147.69,437.07 149.03,441.21 150.36,445.28 151.69,449.26 153.03,453.12 154.36,456.85 155.7,460.44 157.03,463.87 158.37,467.15 159.7,470.25 161.03,473.19 162.37,475.95 163.7,478.54 165.04,480.96 166.37,483.21 167.71,485.28 169.04,487.2 170.37,488.96 171.71,490.57 173.04,492.04 174.38,493.37 175.71,494.58 177.05,495.66 178.38,496.64 179.71,497.51 181.05,498.29 182.38,498.98 183.72,499.59 185.05,500.13 186.39,500.61 187.72,501.02 189.05,501.38 190.39,501.7 191.72,501.97 193.06,502.21 194.39,502.41 195.73,502.58 197.06,502.73 198.39,502.86 199.73,502.96 201.06,503.06 202.4,503.13 203.73,503.2 205.07,503.25 206.4,503.3" fill="none" stroke="#ff2020" stroke-width="1.2" stroke-dasharray="3.48 2.52"/>
<path d="M19.2 503.5H206.8" stroke="#3a3a3a" stroke-width="1.0" opacity="0.55"/>
<path d="M206.4 364.5V503.9" stroke="#555" stroke-width="0.75"/>
<path d="M19.6 364.4V504" stroke="#333" stroke-width="1.0"/>
<path d="M19.1 364.9H206.8" stroke="#9c9c9c" stroke-width="1.6"/>
<text x="19.6" y="512.8" font-size="6.8" text-anchor="middle">−20</text>
<text x="46.29" y="512.8" font-size="6.8" text-anchor="middle">−15</text>
<text x="72.97" y="512.8" font-size="6.8" text-anchor="middle">−10</text>
<text x="99.66" y="512.8" font-size="6.8" text-anchor="middle">−5</text>
<text x="126.34" y="512.8" font-size="6.8" text-anchor="middle">0</text>
<text x="153.03" y="512.8" font-size="6.8" text-anchor="middle">5</text>
<text x="179.71" y="512.8" font-size="6.8" text-anchor="middle">10</text>
<text x="206.4" y="512.8" font-size="6.8" text-anchor="middle">15</text>
<text x="15.8" y="505.93" font-size="6.8" text-anchor="end">0</text>
<text x="15.8" y="492.73" font-size="6.8" text-anchor="end">2</text>
<text x="15.8" y="479.53" font-size="6.8" text-anchor="end">4</text>
<text x="15.8" y="466.33" font-size="6.8" text-anchor="end">6</text>
<text x="15.8" y="453.13" font-size="6.8" text-anchor="end">8</text>
<text x="15.8" y="439.93" font-size="6.8" text-anchor="end">10</text>
<text x="15.8" y="426.73" font-size="6.8" text-anchor="end">12</text>
<text x="15.8" y="413.53" font-size="6.8" text-anchor="end">14</text>
<text x="15.8" y="400.33" font-size="6.8" text-anchor="end">16</text>
<text x="15.8" y="387.13" font-size="6.8" text-anchor="end">18</text>
<text x="15.8" y="373.93" font-size="6.8" text-anchor="end">20</text>
<path d="M19.6 503.5v2.3M46.29 503.5v2.3M72.97 503.5v2.3M99.66 503.5v2.3M126.34 503.5v2.3M153.03 503.5v2.3M179.71 503.5v2.3M206.4 503.5v2.3M32.94 503.5v1.4M59.63 503.5v1.4M86.31 503.5v1.4M113 503.5v1.4M139.69 503.5v1.4M166.37 503.5v1.4M193.06 503.5v1.4M19.6 503.5h-2.3M19.6 490.3h-2.3M19.6 477.1h-2.3M19.6 463.9h-2.3M19.6 450.7h-2.3M19.6 437.5h-2.3M19.6 424.3h-2.3M19.6 411.1h-2.3M19.6 397.9h-2.3M19.6 384.7h-2.3M19.6 371.5h-2.3M19.6 496.9h-1.4M19.6 483.7h-1.4M19.6 470.5h-1.4M19.6 457.3h-1.4M19.6 444.1h-1.4M19.6 430.9h-1.4M19.6 417.7h-1.4M19.6 404.5h-1.4M19.6 391.3h-1.4M19.6 378.1h-1.4M19.6 364.9h-1.4" stroke="#333" stroke-width="0.7" fill="none"/>
<text x="113" y="525" font-size="7.7" text-anchor="middle">Residual Error (MPa)</text>
<text transform="translate(6.1 434.6) rotate(-90)" font-size="7.7" text-anchor="middle">Frequency</text>
<rect x="20.5" y="365.8" width="112.93" height="10.1" fill="#fff" stroke="#b0b0b0" stroke-width="0.7"/>
<rect x="21.5" y="366.9" width="16" height="8.1" fill="#ffff4d" stroke="#ff4030" stroke-width="0.8" stroke-dasharray="2.9 1.5"/>
<text x="40" y="373.3" font-size="7.05">Gaussian Process Regressor</text>
</g>
<g>
<path d="M256.7 503.5H444" stroke="#3a3a3a" stroke-width="1.0"/>
<rect x="257.1" y="440.5" width="37.3" height="63" fill="#ffff4d"/>
<rect x="294.4" y="415.3" width="37.3" height="88.2" fill="#ffff4d"/>
<rect x="331.7" y="402.7" width="37.3" height="100.8" fill="#ffff4d"/>
<rect x="369" y="377.5" width="37.3" height="126" fill="#ffff4d"/>
<rect x="406.3" y="440.5" width="37.3" height="63" fill="#ffff4d"/>
<path d="M257.1 503.5V440.5M294.4 503.5V440.5M257.1 440.5H294.4M257.1 503.5H294.4M294.4 503.5V415.3M331.7 503.5V415.3M294.4 415.3H331.7M294.4 503.5H331.7M331.7 503.5V402.7M369 503.5V402.7M331.7 402.7H369M331.7 503.5H369M369 503.5V377.5M406.3 503.5V377.5M369 377.5H406.3M369 503.5H406.3M406.3 503.5V440.5M443.6 503.5V440.5M406.3 440.5H443.6M406.3 503.5H443.6" fill="none" stroke="#ff4030" stroke-width="0.75" stroke-dasharray="3.2 1.8"/>
<polyline points="257.1,482.96 258.43,481.83 259.76,480.66 261.1,479.44 262.43,478.18 263.76,476.87 265.09,475.51 266.43,474.12 267.76,472.67 269.09,471.18 270.42,469.65 271.75,468.07 273.09,466.45 274.42,464.79 275.75,463.08 277.08,461.33 278.41,459.54 279.75,457.72 281.08,455.85 282.41,453.95 283.74,452.01 285.08,450.04 286.41,448.04 287.74,446.02 289.07,443.96 290.4,441.89 291.74,439.79 293.07,437.67 294.4,435.53 295.73,433.39 297.06,431.23 298.4,429.07 299.73,426.9 301.06,424.74 302.39,422.58 303.73,420.42 305.06,418.28 306.39,416.15 307.72,414.04 309.05,411.96 310.39,409.9 311.72,407.87 313.05,405.87 314.38,403.91 315.71,402 317.05,400.13 318.38,398.31 319.71,396.55 321.04,394.84 322.38,393.2 323.71,391.62 325.04,390.11 326.37,388.67 327.7,387.3 329.04,386.02 330.37,384.81 331.7,383.69 333.03,382.66 334.36,381.71 335.7,380.86 337.03,380.1 338.36,379.43 339.69,378.86 341.03,378.39 342.36,378.02 343.69,377.74 345.02,377.57 346.35,377.5 347.69,377.53 349.02,377.66 350.35,377.9 351.68,378.23 353.01,378.66 354.35,379.19 355.68,379.82 357.01,380.54 358.34,381.36 359.68,382.27 361.01,383.27 362.34,384.35 363.67,385.53 365,386.78 366.34,388.11 367.67,389.52 369,391.01 370.33,392.56 371.66,394.18 373,395.86 374.33,397.6 375.66,399.4 376.99,401.25 378.33,403.14 379.66,405.08 380.99,407.06 382.32,409.08 383.65,411.13 384.99,413.2 386.32,415.31 387.65,417.43 388.98,419.56 390.31,421.71 391.65,423.87 392.98,426.04 394.31,428.2 395.64,430.37 396.98,432.53 398.31,434.68 399.64,436.82 400.97,438.94 402.3,441.05 403.64,443.13 404.97,445.2 406.3,447.24 407.63,449.25 408.96,451.23 410.3,453.18 411.63,455.09 412.96,456.97 414.29,458.82 415.62,460.62 416.96,462.38 418.29,464.11 419.62,465.79 420.95,467.43 422.29,469.02 423.62,470.57 424.95,472.08 426.28,473.54 427.61,474.96 428.95,476.33 430.28,477.66 431.61,478.94 432.94,480.18 434.27,481.37 435.61,482.52 436.94,483.62 438.27,484.68 439.6,485.7 440.94,486.68 442.27,487.62 443.6,488.51" fill="none" stroke="#ff2020" stroke-width="1.2" stroke-dasharray="3.54 2.56"/>
<path d="M256.7 503.5H444" stroke="#3a3a3a" stroke-width="1.0" opacity="0.55"/>
<path d="M443.6 364.5V503.9" stroke="#444" stroke-width="0.8"/>
<path d="M257.3 364.4V504" stroke="#b4b4b4" stroke-width="1.6"/>
<path d="M256.6 364.9H444" stroke="#9c9c9c" stroke-width="1.6"/>
<text x="257.1" y="512.8" font-size="6.8" text-anchor="middle">25</text>
<text x="294.4" y="512.8" font-size="6.8" text-anchor="middle">30</text>
<text x="331.7" y="512.8" font-size="6.8" text-anchor="middle">35</text>
<text x="369" y="512.8" font-size="6.8" text-anchor="middle">40</text>
<text x="406.3" y="512.8" font-size="6.8" text-anchor="middle">45</text>
<text x="443.6" y="512.8" font-size="6.8" text-anchor="middle">50</text>
<text x="253.3" y="505.93" font-size="6.8" text-anchor="end">0</text>
<text x="253.3" y="480.73" font-size="6.8" text-anchor="end">2</text>
<text x="253.3" y="455.53" font-size="6.8" text-anchor="end">4</text>
<text x="253.3" y="430.33" font-size="6.8" text-anchor="end">6</text>
<text x="253.3" y="405.13" font-size="6.8" text-anchor="end">8</text>
<text x="253.3" y="379.93" font-size="6.8" text-anchor="end">10</text>
<path d="M257.1 503.5v2.3M294.4 503.5v2.3M331.7 503.5v2.3M369 503.5v2.3M406.3 503.5v2.3M443.6 503.5v2.3M275.75 503.5v1.4M313.05 503.5v1.4M350.35 503.5v1.4M387.65 503.5v1.4M424.95 503.5v1.4M257.1 503.5h-2.3M257.1 478.3h-2.3M257.1 453.1h-2.3M257.1 427.9h-2.3M257.1 402.7h-2.3M257.1 377.5h-2.3M257.1 490.9h-1.4M257.1 465.7h-1.4M257.1 440.5h-1.4M257.1 415.3h-1.4M257.1 390.1h-1.4M257.1 364.9h-1.4" stroke="#333" stroke-width="0.7" fill="none"/>
<text x="350.35" y="525" font-size="7.7" text-anchor="middle">Residual Error (MPa)</text>
<text transform="translate(242.3 434.6) rotate(-90)" font-size="7.7" text-anchor="middle">Frequency</text>
<rect x="258" y="365.8" width="61.45" height="10.1" fill="#fff" stroke="#b0b0b0" stroke-width="0.7"/>
<rect x="259" y="366.9" width="16" height="8.1" fill="#ffff4d" stroke="#ff4030" stroke-width="0.8" stroke-dasharray="2.9 1.5"/>
<text x="277.5" y="373.3" font-size="7.05">Kernel Ridge</text>
</g>
<g>
<path d="M494.3 503.5H681.7" stroke="#3a3a3a" stroke-width="1.0"/>
<rect x="494.7" y="402.7" width="31.1" height="100.8" fill="#ffff4d"/>
<rect x="525.8" y="478.3" width="31.1" height="25.2" fill="#ffff4d"/>
<rect x="556.9" y="377.5" width="31.1" height="126" fill="#ffff4d"/>
<rect x="588" y="390.1" width="31.1" height="113.4" fill="#ffff4d"/>
<rect x="619.1" y="440.5" width="31.1" height="63" fill="#ffff4d"/>
<rect x="650.2" y="490.9" width="31.1" height="12.6" fill="#ffff4d"/>
<path d="M494.7 503.5V402.7M525.8 503.5V402.7M494.7 402.7H525.8M494.7 503.5H525.8M525.8 503.5V478.3M556.9 503.5V478.3M525.8 478.3H556.9M525.8 503.5H556.9M556.9 503.5V377.5M588 503.5V377.5M556.9 377.5H588M556.9 503.5H588M588 503.5V390.1M619.1 503.5V390.1M588 390.1H619.1M588 503.5H619.1M619.1 503.5V440.5M650.2 503.5V440.5M619.1 440.5H650.2M619.1 503.5H650.2M650.2 503.5V490.9M681.3 503.5V490.9M650.2 490.9H681.3M650.2 503.5H681.3" fill="none" stroke="#ff4030" stroke-width="0.75" stroke-dasharray="3.2 1.8"/>
<polyline points="494.7,476.57 496.03,475.18 497.37,473.74 498.7,472.25 500.03,470.72 501.36,469.13 502.7,467.51 504.03,465.83 505.36,464.12 506.7,462.36 508.03,460.55 509.36,458.71 510.69,456.82 512.03,454.9 513.36,452.94 514.69,450.94 516.03,448.91 517.36,446.85 518.69,444.77 520.02,442.65 521.36,440.51 522.69,438.36 524.02,436.18 525.36,433.99 526.69,431.79 528.02,429.58 529.35,427.37 530.69,425.16 532.02,422.95 533.35,420.75 534.69,418.56 536.02,416.38 537.35,414.22 538.68,412.09 540.02,409.98 541.35,407.91 542.68,405.87 544.02,403.87 545.35,401.92 546.68,400.01 548.01,398.16 549.35,396.36 550.68,394.63 552.01,392.95 553.35,391.35 554.68,389.82 556.01,388.37 557.34,386.99 558.68,385.7 560.01,384.49 561.34,383.37 562.68,382.34 564.01,381.41 565.34,380.57 566.67,379.83 568.01,379.18 569.34,378.65 570.67,378.21 572.01,377.88 573.34,377.65 574.67,377.52 576,377.51 577.34,377.59 578.67,377.79 580,378.09 581.34,378.49 582.67,378.99 584,379.6 585.33,380.31 586.67,381.12 588,382.02 589.33,383.02 590.67,384.11 592,385.28 593.33,386.55 594.66,387.9 596,389.33 597.33,390.83 598.66,392.41 600,394.06 601.33,395.78 602.66,397.55 603.99,399.39 605.33,401.28 606.66,403.22 607.99,405.2 609.33,407.23 610.66,409.29 611.99,411.38 613.32,413.51 614.66,415.66 615.99,417.83 617.32,420.02 618.66,422.22 619.99,424.42 621.32,426.63 622.65,428.85 623.99,431.06 625.32,433.26 626.65,435.45 627.99,437.63 629.32,439.8 630.65,441.94 631.98,444.06 633.32,446.16 634.65,448.23 635.98,450.27 637.32,452.28 638.65,454.25 639.98,456.19 641.31,458.08 642.65,459.94 643.98,461.76 645.31,463.54 646.65,465.27 647.98,466.95 649.31,468.6 650.64,470.19 651.98,471.74 653.31,473.25 654.64,474.7 655.98,476.11 657.31,477.47 658.64,478.79 659.97,480.06 661.31,481.28 662.64,482.46 663.97,483.59 665.31,484.67 666.64,485.71 667.97,486.71 669.3,487.66 670.64,488.58 671.97,489.45 673.3,490.28 674.64,491.08 675.97,491.83 677.3,492.55 678.63,493.23 679.97,493.88 681.3,494.5" fill="none" stroke="#ff2020" stroke-width="1.2" stroke-dasharray="3.83 2.77"/>
<path d="M494.3 503.5H681.7" stroke="#3a3a3a" stroke-width="1.0" opacity="0.55"/>
<path d="M681.3 364.5V503.9" stroke="#6a6a6a" stroke-width="0.85"/>
<path d="M494.7 364.4V504" stroke="#333" stroke-width="1.0"/>
<path d="M494.2 364.9H681.7" stroke="#9c9c9c" stroke-width="1.6"/>
<text x="494.7" y="512.8" font-size="6.8" text-anchor="middle">−10</text>
<text x="525.8" y="512.8" font-size="6.8" text-anchor="middle">−5</text>
<text x="556.9" y="512.8" font-size="6.8" text-anchor="middle">0</text>
<text x="588" y="512.8" font-size="6.8" text-anchor="middle">5</text>
<text x="619.1" y="512.8" font-size="6.8" text-anchor="middle">10</text>
<text x="650.2" y="512.8" font-size="6.8" text-anchor="middle">15</text>
<text x="681.3" y="512.8" font-size="6.8" text-anchor="middle">20</text>
<text x="490.9" y="505.93" font-size="6.8" text-anchor="end">0</text>
<text x="490.9" y="480.73" font-size="6.8" text-anchor="end">2</text>
<text x="490.9" y="455.53" font-size="6.8" text-anchor="end">4</text>
<text x="490.9" y="430.33" font-size="6.8" text-anchor="end">6</text>
<text x="490.9" y="405.13" font-size="6.8" text-anchor="end">8</text>
<text x="490.9" y="379.93" font-size="6.8" text-anchor="end">10</text>
<path d="M494.7 503.5v2.3M525.8 503.5v2.3M556.9 503.5v2.3M588 503.5v2.3M619.1 503.5v2.3M650.2 503.5v2.3M681.3 503.5v2.3M510.25 503.5v1.4M541.35 503.5v1.4M572.45 503.5v1.4M603.55 503.5v1.4M634.65 503.5v1.4M665.75 503.5v1.4M494.7 503.5h-2.3M494.7 478.3h-2.3M494.7 453.1h-2.3M494.7 427.9h-2.3M494.7 402.7h-2.3M494.7 377.5h-2.3M494.7 490.9h-1.4M494.7 465.7h-1.4M494.7 440.5h-1.4M494.7 415.3h-1.4M494.7 390.1h-1.4M494.7 364.9h-1.4" stroke="#333" stroke-width="0.7" fill="none"/>
<text x="588" y="525" font-size="7.7" text-anchor="middle">Residual Error (MPa)</text>
<text transform="translate(480.1 434.6) rotate(-90)" font-size="7.7" text-anchor="middle">Frequency</text>
<rect x="495.6" y="365.8" width="87.34" height="10.1" fill="#fff" stroke="#b0b0b0" stroke-width="0.7"/>
<rect x="496.6" y="366.9" width="16" height="8.1" fill="#ffff4d" stroke="#ff4030" stroke-width="0.8" stroke-dasharray="2.9 1.5"/>
<text x="515.1" y="373.3" font-size="7.05">Multilayer Perceptron</text>
</g>
</svg></body></html>
